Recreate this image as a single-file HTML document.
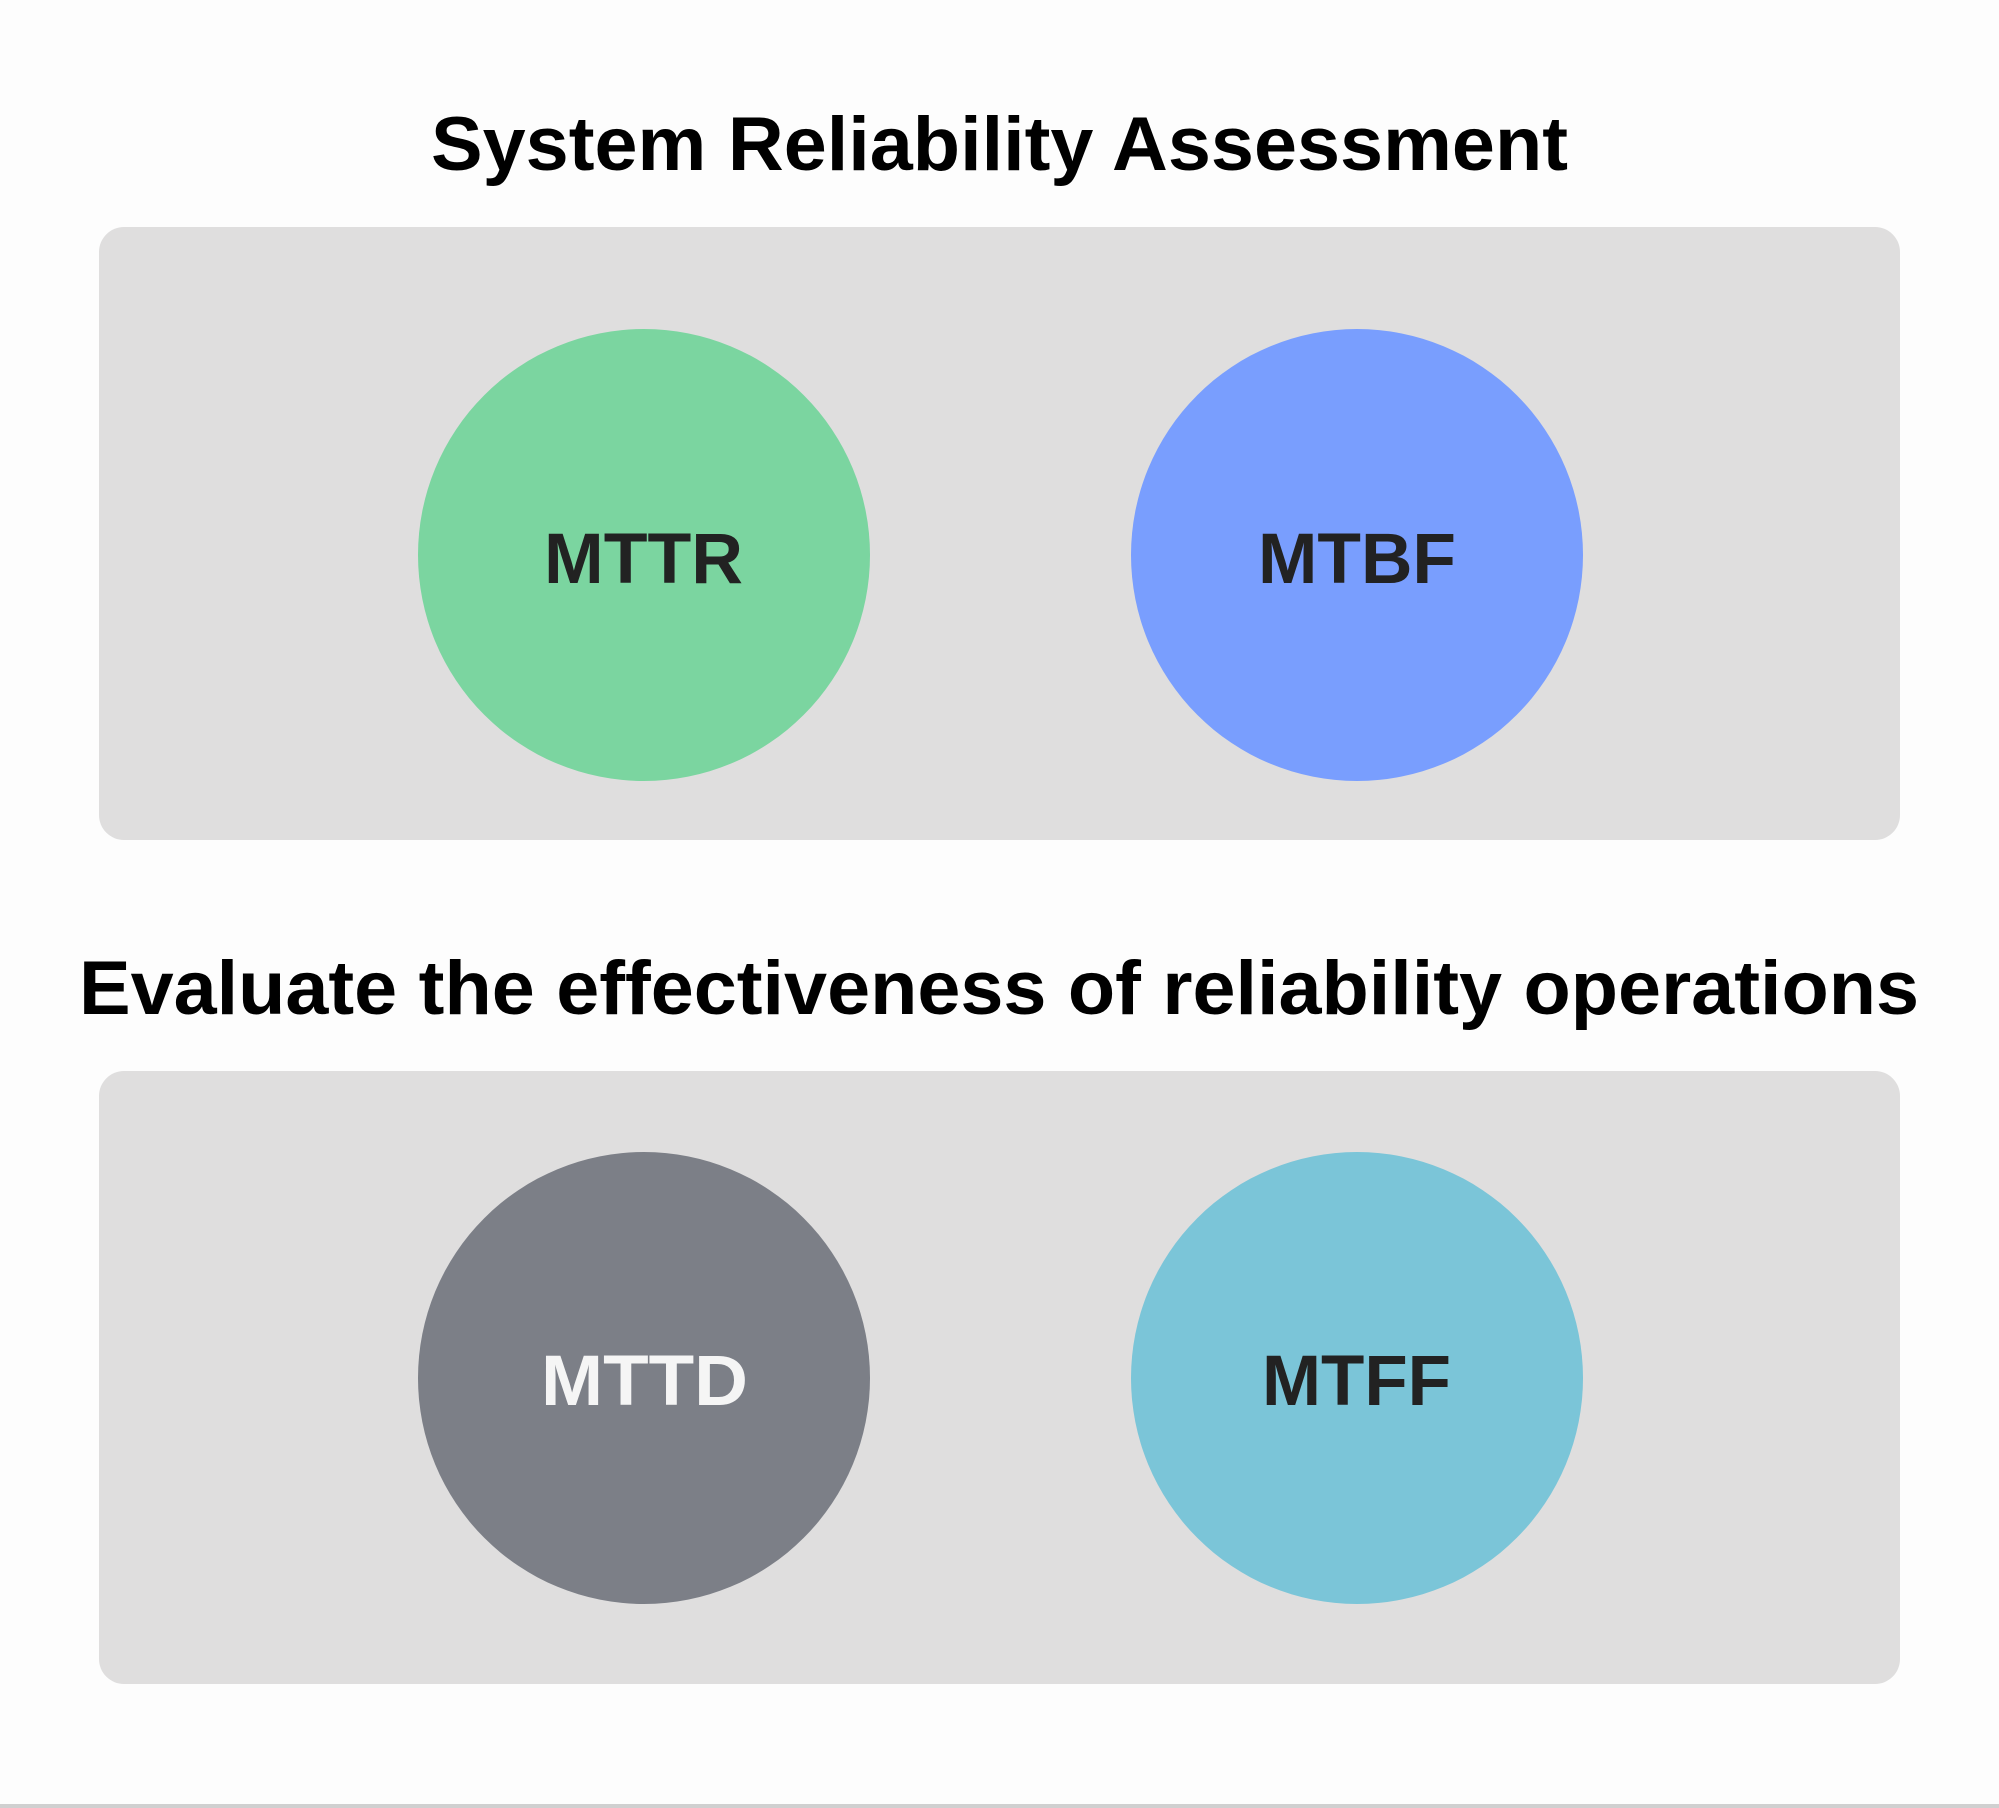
<!DOCTYPE html>
<html><head><style>
html,body{margin:0;padding:0;background:#fdfdfd;}
</style></head><body>
<svg width="1999" height="1808" viewBox="0 0 1999 1808" xmlns="http://www.w3.org/2000/svg" style="display:block">
<rect x="0" y="0" width="1999" height="1808" fill="#fdfdfd"/>
<rect x="0" y="1804" width="1999" height="4" fill="#d0d0d0"/>
<g font-family="Liberation Sans, sans-serif" font-weight="bold">
<text x="431" y="170" font-size="76" textLength="1137" lengthAdjust="spacingAndGlyphs" fill="#000">System Reliability Assessment</text>
<rect x="99" y="227" width="1801" height="613" rx="25" fill="#dfdede"/>
<circle cx="644" cy="555" r="226" fill="#7bd5a0"/>
<circle cx="1357" cy="555" r="226" fill="#799efe"/>
<text x="544" y="583" font-size="71" textLength="199" lengthAdjust="spacingAndGlyphs" fill="#222">MTTR</text>
<text x="1258" y="583" font-size="71" textLength="198" lengthAdjust="spacingAndGlyphs" fill="#222">MTBF</text>
<text x="79" y="1014" font-size="76" textLength="1840" lengthAdjust="spacingAndGlyphs" fill="#000">Evaluate the effectiveness of reliability operations</text>
<rect x="99" y="1071" width="1801" height="613" rx="25" fill="#dfdede"/>
<circle cx="644" cy="1378" r="226" fill="#7c7f87"/>
<circle cx="1357" cy="1378" r="226" fill="#7bc5d8"/>
<text x="541" y="1405" font-size="71" textLength="207" lengthAdjust="spacingAndGlyphs" fill="#f5f5f5">MTTD</text>
<text x="1262" y="1405" font-size="71" textLength="189" lengthAdjust="spacingAndGlyphs" fill="#222">MTFF</text>
</g>
</svg>
</body></html>
